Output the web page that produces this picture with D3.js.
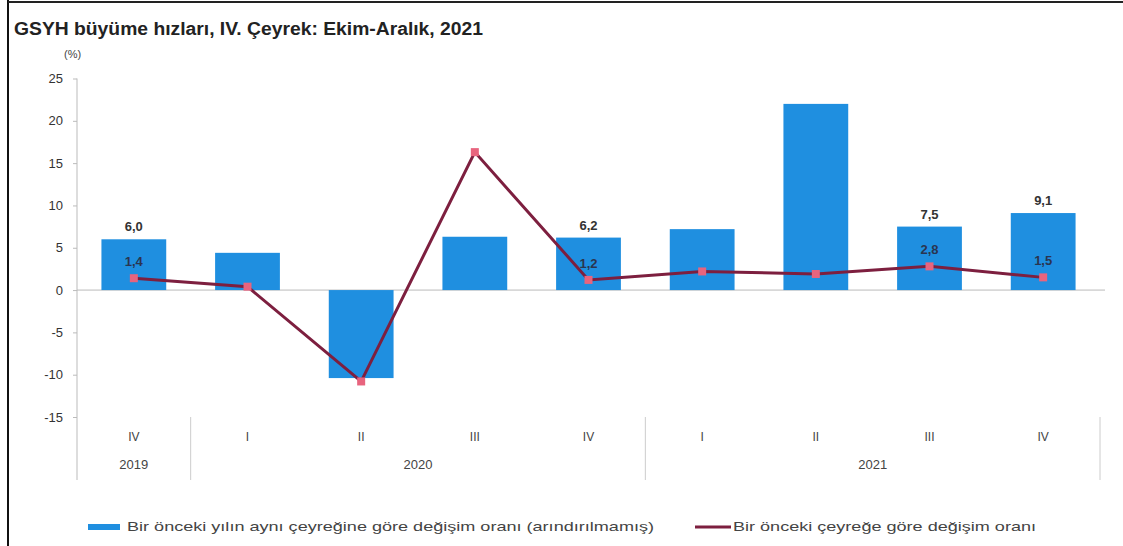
<!DOCTYPE html>
<html>
<head>
<meta charset="utf-8">
<script src="https://cdn.jsdelivr.net/npm/d3@7"></script>
<style>
  body { margin: 0; background: #fff; }
  svg { display: block; font-family: "Liberation Sans", Arial, sans-serif; }
</style>
</head>
<body>
<svg id="chart" width="1123" height="546"></svg>
<script>
// Data
const quarters = ["IV", "I", "II", "III", "IV", "I", "II", "III", "IV"];
const years = ["2019", "2020", "2021"];
const quartersPerYear = [1, 4, 4];
const yearlyChange = [6.0, 4.4, -10.4, 6.3, 6.2, 7.2, 22.0, 7.5, 9.1];
const quarterlyChange = [1.4, 0.4, -10.8, 16.3, 1.2, 2.2, 1.9, 2.8, 1.5];
const barLabels = ["6,0", "", "", "", "6,2", "", "", "7,5", "9,1"];
const lineLabels = ["1,4", "", "", "", "1,2", "", "", "2,8", "1,5"];
const yTicks = [25, 20, 15, 10, 5, 0, -5, -10, -15];
const legendNames = [
  "Bir önceki yılın aynı çeyreğine göre değişim oranı (arındırılmamış)",
  "Bir önceki çeyreğe göre değişim oranı"
];

const svg = d3.select("#chart");
const barColor = "#1f8fe0";
const lineColor = "#7d1f3f";
const markerColor = "#e8647e";

// Frame
svg.append("line").attr("x1", 8).attr("x2", 8).attr("y1", 0).attr("y2", 546)
  .attr("stroke", "#111").attr("stroke-width", 2);
svg.append("line").attr("x1", 8).attr("x2", 1123).attr("y1", 2).attr("y2", 2)
  .attr("stroke", "#222").attr("stroke-width", 2);

// Title
svg.append("text").attr("x", 14).attr("y", 35)
  .attr("font-size", 18).attr("font-weight", "bold").attr("fill", "#222")
  .attr("textLength", 469).attr("lengthAdjust", "spacingAndGlyphs")
  .text("GSYH büyüme hızları, IV. Çeyrek: Ekim-Aralık, 2021");
svg.append("text").attr("x", 64).attr("y", 58)
  .attr("font-size", 11).attr("fill", "#444").text("(%)");

// Scales
const x = d3.scaleBand()
  .domain(d3.range(quarters.length))
  .range([77, 1100])
  .paddingInner(0.43)
  .paddingOuter(0.215);

const y = d3.scaleLinear().domain([-15, 25]).range([417, 78.5]);

// Y axis
const yAxis = svg.append("g")
  .attr("transform", "translate(77,0)")
  .call(d3.axisLeft(y).tickValues(yTicks).tickSize(4).tickPadding(10)
    .tickFormat(d => String(d)));
yAxis.select(".domain").remove();
yAxis.selectAll(".tick line").attr("stroke", "#bbb");
yAxis.selectAll(".tick text").attr("font-size", 13).attr("fill", "#333")
  .attr("font-family", "Liberation Sans, Arial, sans-serif");

svg.append("line").attr("x1", 77).attr("x2", 77)
  .attr("y1", y(25)).attr("y2", y(-15) + 63)
  .attr("stroke", "#bbb");

// Zero line
svg.append("line").attr("x1", 77).attr("x2", 1105)
  .attr("y1", y(0)).attr("y2", y(0)).attr("stroke", "#bbb");

// Bars
svg.selectAll(".bar")
  .data(yearlyChange)
  .enter()
  .append("rect")
  .attr("class", "bar")
  .attr("x", (d, i) => x(i))
  .attr("y", d => y(Math.max(0, d)))
  .attr("width", x.bandwidth())
  .attr("height", d => Math.abs(y(d) - y(0)))
  .attr("fill", barColor);

svg.selectAll(".bar-label")
  .data(yearlyChange)
  .enter()
  .append("text")
  .attr("class", "bar-label")
  .attr("x", (d, i) => x(i) + x.bandwidth() / 2)
  .attr("y", d => y(d) - 8)
  .attr("text-anchor", "middle")
  .attr("font-size", 13).attr("font-weight", "bold").attr("fill", "#333")
  .text((d, i) => barLabels[i]);

// Line
const cx = i => x(i) + x.bandwidth() / 2;
const line = d3.line().x((d, i) => cx(i)).y(d => y(d));

svg.append("path")
  .datum(quarterlyChange)
  .attr("d", line)
  .attr("fill", "none")
  .attr("stroke", lineColor)
  .attr("stroke-width", 3);

svg.selectAll(".marker")
  .data(quarterlyChange)
  .enter()
  .append("rect")
  .attr("class", "marker")
  .attr("x", (d, i) => cx(i) - 4)
  .attr("y", d => y(d) - 4)
  .attr("width", 8).attr("height", 8)
  .attr("fill", markerColor);

svg.selectAll(".line-label")
  .data(quarterlyChange)
  .enter()
  .append("text")
  .attr("class", "line-label")
  .attr("x", (d, i) => cx(i))
  .attr("y", d => y(d) - 12)
  .attr("text-anchor", "middle")
  .attr("font-size", 13).attr("font-weight", "bold").attr("fill", "#2a3550")
  .text((d, i) => lineLabels[i]);

// Category axis
svg.selectAll(".q-label")
  .data(quarters)
  .enter()
  .append("text")
  .attr("class", "q-label")
  .attr("x", (d, i) => cx(i))
  .attr("y", 441)
  .attr("text-anchor", "middle")
  .attr("font-size", 12).attr("fill", "#444")
  .text(d => d);

let start = 0;
const groups = years.map((yr, k) => {
  const g = { year: yr, from: start, to: start + quartersPerYear[k] - 1 };
  start += quartersPerYear[k];
  return g;
});
const step = x.step();
const sepX = g => x(g.to) + x.bandwidth() + (step - x.bandwidth()) / 2;

svg.selectAll(".sep")
  .data(groups)
  .enter()
  .append("line")
  .attr("x1", sepX).attr("x2", sepX)
  .attr("y1", y(-15)).attr("y2", y(-15) + 63)
  .attr("stroke", "#ccc");

svg.selectAll(".year-label")
  .data(groups)
  .enter()
  .append("text")
  .attr("x", g => (cx(g.from) + cx(g.to)) / 2)
  .attr("y", 469)
  .attr("text-anchor", "middle")
  .attr("font-size", 13).attr("fill", "#444")
  .text(g => g.year);

// Legend
const lg = svg.append("g");
lg.append("rect").attr("x", 88).attr("y", 524).attr("width", 32).attr("height", 6)
  .attr("fill", barColor);
lg.append("text").attr("x", 127).attr("y", 531)
  .attr("font-size", 13).attr("fill", "#444")
  .attr("textLength", 527).attr("lengthAdjust", "spacingAndGlyphs")
  .text(legendNames[0]);
lg.append("line").attr("x1", 695).attr("x2", 731).attr("y1", 527).attr("y2", 527)
  .attr("stroke", lineColor).attr("stroke-width", 3);
lg.append("text").attr("x", 733).attr("y", 531)
  .attr("font-size", 13).attr("fill", "#444")
  .attr("textLength", 303).attr("lengthAdjust", "spacingAndGlyphs")
  .text(legendNames[1]);
</script>
</body>
</html>
